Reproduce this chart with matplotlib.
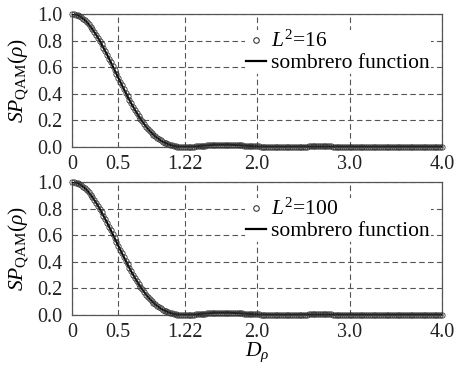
import numpy as np
import matplotlib
matplotlib.use("Agg")
import matplotlib.pyplot as plt
from matplotlib.lines import Line2D

plt.rcParams["font.family"] = ["Liberation Serif", "DejaVu Serif"]
plt.rcParams["mathtext.fontset"] = "custom"
plt.rcParams["mathtext.rm"] = "Liberation Serif"
plt.rcParams["mathtext.it"] = "Liberation Serif:italic"

# sampling grid along D_rho (step 0.02)
rho = np.round(np.arange(201) * 0.02, 2)

# values (sombrero curve), one row per 0.2 of D_rho
sombrero = [1.000, 0.999, 0.996, 0.991, 0.984, 0.975, 0.965, 0.953, 0.939, 0.923,
            0.905, 0.886, 0.866, 0.845, 0.822, 0.798, 0.772, 0.747, 0.720, 0.693,
            0.665, 0.637, 0.608, 0.579, 0.550, 0.521, 0.492, 0.464, 0.436, 0.408,
            0.381, 0.354, 0.328, 0.303, 0.279, 0.256, 0.233, 0.212, 0.192, 0.173,
            0.154, 0.137, 0.121, 0.107, 0.093, 0.080, 0.069, 0.058, 0.049, 0.040,
            0.033, 0.027, 0.021, 0.016, 0.012, 0.008, 0.005, 0.003, 0.002, 0.001,
            0.000, 0.000, 0.000, 0.001, 0.001, 0.002, 0.003, 0.004, 0.006, 0.007,
            0.009, 0.010, 0.011, 0.012, 0.013, 0.014, 0.015, 0.016, 0.016, 0.017,
            0.017, 0.017, 0.017, 0.017, 0.017, 0.017, 0.016, 0.016, 0.015, 0.014,
            0.014, 0.013, 0.012, 0.011, 0.010, 0.009, 0.008, 0.007, 0.006, 0.005,
            0.005, 0.004, 0.003, 0.002, 0.002, 0.001, 0.001, 0.001, 0.000, 0.000,
            0.000, 0.000, 0.000, 0.000, 0.000, 0.000, 0.001, 0.001, 0.001, 0.001,
            0.002, 0.002, 0.002, 0.002, 0.003, 0.003, 0.003, 0.003, 0.004, 0.004,
            0.004, 0.004, 0.004, 0.004, 0.004, 0.004, 0.004, 0.004, 0.004, 0.004,
            0.004, 0.003, 0.003, 0.003, 0.003, 0.003, 0.002, 0.002, 0.002, 0.002,
            0.001, 0.001, 0.001, 0.001, 0.001, 0.000, 0.000, 0.000, 0.000, 0.000,
            0.000, 0.000, 0.000, 0.000, 0.000, 0.000, 0.000, 0.000, 0.000, 0.001,
            0.001, 0.001, 0.001, 0.001, 0.001, 0.001, 0.001, 0.001, 0.001, 0.002,
            0.002, 0.002, 0.002, 0.002, 0.002, 0.002, 0.002, 0.002, 0.002, 0.002,
            0.001, 0.001, 0.001, 0.001, 0.001, 0.001, 0.001, 0.001, 0.001, 0.001,
            0.001]
sp_L16 = list(sombrero)
sp_L100 = list(sombrero)

xticks = [0, 0.5, 1.22, 2.0, 3.0, 4.0]
xticklabels = ["0", "0.5", "1.22", "2.0", "3.0", "4.0"]
yticks = [0.0, 0.2, 0.4, 0.6, 0.8, 1.0]

panels = [(sp_L16, r"$L^{2}$=16"), (sp_L100, r"$L^{2}$=100")]

fig = plt.figure(figsize=(4.54, 3.67), dpi=100)
axes = [fig.add_axes([72/454, 1 - 147/367, 370/454, 133/367]),
        fig.add_axes([72/454, 1 - 315/367, 370/454, 133/367])]

for ax, (vals, lab) in zip(axes, panels):
    ax.plot(rho, sombrero, color="black", linewidth=1.5, zorder=3)
    ax.plot(rho, vals, linestyle="none", marker="o", markersize=3.8,
            markerfacecolor="none", markeredgecolor="#333333",
            markeredgewidth=0.6, zorder=4, clip_on=False)
    ax.set_xlim(0, 4.0)
    ax.set_ylim(0, 1.0)
    ax.set_xticks(xticks)
    ax.set_xticklabels(xticklabels)
    ax.set_yticks(yticks)
    ax.set_yticklabels(["%.1f" % t for t in yticks])
    ax.tick_params(length=0, labelsize=14.5, colors="#222222")
    ax.tick_params(axis="x", pad=6)
    ax.tick_params(axis="y", pad=7)
    ax.grid(True, color="#555555", linestyle=(0, (5, 3)), linewidth=0.8)
    for s in ax.spines.values():
        s.set_color("#555555")
        s.set_linewidth(0.9)
    ax.set_ylabel(r"$SP_{\mathrm{QAM}}(\rho)$", fontsize=15.5, labelpad=4)
    h = [Line2D([], [], linestyle="none", marker="o", markersize=4,
                markerfacecolor="white", markeredgecolor="#3a3a3a", markeredgewidth=0.8),
         Line2D([], [], color="black", linewidth=1.6)]
    leg = ax.legend(h, [lab, "sombrero function"], loc="upper left",
                    bbox_to_anchor=(0.468, 0.88), fontsize=15.5, frameon=True,
                    fancybox=False, edgecolor="none", facecolor="white", framealpha=1,
                    handlelength=0.9, handletextpad=0.25, labelspacing=0.05,
                    borderpad=0.05, borderaxespad=0)
    leg.set_zorder(5)

axes[1].set_xlabel(r"$D_{\rho}$", fontsize=15.5, labelpad=-1)

fig.savefig("out.png", dpi=100)
